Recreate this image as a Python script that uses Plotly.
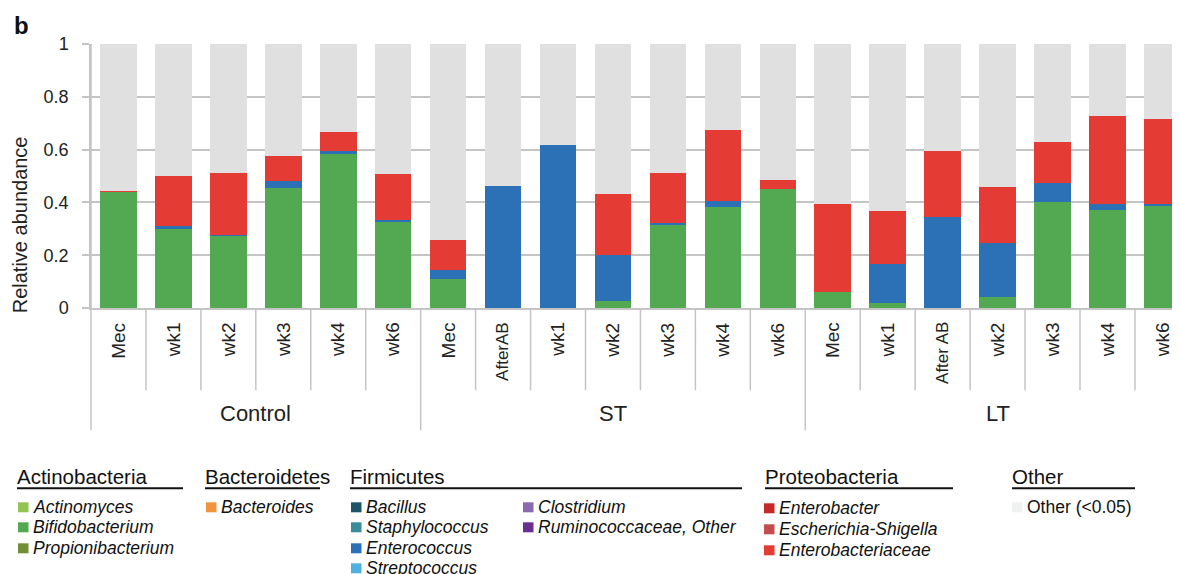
import plotly.graph_objects as go

OFF = 8  # page body margin in the browser
W, H = 1180 - OFF, 574 - OFF
ML, MT = 91 - OFF, 43.7 - OFF
MR = 0
PH = 264
MB = H - MT - PH
PW = W - ML - MR

labels = ["Mec", "wk1", "wk2", "wk3", "wk4", "wk6",
          "Mec", "AfterAB", "wk1", "wk2", "wk3", "wk4", "wk6",
          "Mec", "wk1", "After AB", "wk2", "wk3", "wk4", "wk6"]
groups = ["Control", "ST", "LT"]
group_sizes = [6, 7, 7]

bifido = [0.44, 0.298, 0.273, 0.456, 0.585, 0.329,
          0.111, 0.0, 0.0, 0.026, 0.313, 0.382, 0.45,
          0.059, 0.019, 0.0, 0.042, 0.401, 0.373, 0.388]
entero = [0.0, 0.014, 0.005, 0.026, 0.010, 0.005,
          0.034, 0.463, 0.619, 0.176, 0.009, 0.025, 0.0,
          0.0, 0.146, 0.346, 0.206, 0.071, 0.020, 0.007]
enterob = [0.005, 0.187, 0.232, 0.095, 0.071, 0.172,
           0.111, 0.0, 0.0, 0.228, 0.19, 0.268, 0.034,
           0.336, 0.202, 0.249, 0.21, 0.157, 0.335, 0.321]
other = [0.555, 0.501, 0.49, 0.423, 0.334, 0.494,
         0.744, 0.537, 0.381, 0.57, 0.488, 0.325, 0.516,
         0.605, 0.633, 0.405, 0.542, 0.371, 0.272, 0.284]

C_GREEN = "#53a951"
C_BLUE = "#2c70b6"
C_RED = "#e53b35"
C_GREY = "#e0e0e0"
GRID = "#c4c4c4"
FONT = "Liberation Sans, Arial, sans-serif"

xs = list(range(len(labels)))

fig = go.Figure()
for name, vals, col in [("Bifidobacterium", bifido, C_GREEN),
                        ("Enterococcus", entero, C_BLUE),
                        ("Enterobacteriaceae", enterob, C_RED),
                        ("Other (<0.05)", other, C_GREY)]:
    fig.add_trace(go.Bar(x=xs, y=vals, name=name, marker=dict(color=col, line=dict(width=0)),
                         width=0.665, showlegend=False))


def px(x):
    # x in reference-window pixels -> paper coords
    return (x - OFF - ML) / PW


def py(y):
    return (H - MB - (y - OFF)) / PH


shapes = []
annotations = []

bounds = []
acc = 0
for s in group_sizes:
    acc += s
    bounds.append(acc - 0.5)
for k in range(len(labels) - 1):
    b = k + 0.5
    y1 = py(430) if b in bounds else py(390)
    shapes.append(dict(type="line", xref="x", yref="paper", x0=b, x1=b, y0=0, y1=y1,
                       line=dict(color=GRID, width=1.5)))
shapes.append(dict(type="line", xref="paper", yref="paper", x0=0, x1=0, y0=1, y1=py(430),
                   line=dict(color=GRID, width=1.5)))

for i, lab in enumerate(labels):
    small = "After" in lab
    annotations.append(dict(x=i, y=py(320), xref="x", yref="paper", text=lab, textangle=-90,
                            showarrow=False, xanchor="center", yanchor="top",
                            font=dict(family=FONT, size=17 if small else 19, color="#222")))

start = -0.5
for g, s in zip(groups, group_sizes):
    annotations.append(dict(x=start + s / 2, y=py(413), xref="x", yref="paper", text=g,
                            showarrow=False, xanchor="center", yanchor="middle",
                            font=dict(family=FONT, size=22, color="#222")))
    start += s

annotations.append(dict(x=px(12), y=py(25), xref="paper", yref="paper", text="<b>b</b>",
                        showarrow=False, xanchor="left", yanchor="middle",
                        font=dict(family=FONT, size=24, color="#111")))
annotations.append(dict(x=px(20), y=py(225), xref="paper", yref="paper", text="Relative abundance",
                        textangle=-90, showarrow=False, xanchor="center", yanchor="middle",
                        font=dict(family=FONT, size=20, color="#222")))

legend_groups = [
    ("Actinobacteria", 17, 183, [
        (18, 507, "#93c453", "Actinomyces"),
        (18, 527, "#52a94f", "Bifidobacterium"),
        (18, 548, "#728f38", "Propionibacterium")]),
    ("Bacteroidetes", 205, 320, [
        (206, 507, "#f0953f", "Bacteroides")]),
    ("Firmicutes", 350, 742, [
        (351, 507, "#1d5568", "Bacillus"),
        (351, 527, "#3a8b9c", "Staphylococcus"),
        (351, 548, "#2c70b6", "Enterococcus"),
        (351, 568, "#4fb0e2", "Streptococcus"),
        (523, 507, "#8a68b0", "Clostridium"),
        (523, 527, "#6a2e91", "Ruminococcaceae, Other")]),
    ("Proteobacteria", 765, 953, [
        (764, 508, "#c62a28", "Enterobacter"),
        (764, 529, "#c44d4f", "Escherichia-Shigella"),
        (764, 550, "#e53b35", "Enterobacteriaceae")]),
    ("Other", 1012, 1135, [
        (1012, 507, "#f0f1f1", "Other (<0.05)")]),
]
for head, x0, x1, items in legend_groups:
    annotations.append(dict(x=px(x0 - 2), y=py(476), xref="paper", yref="paper", text=head,
                            showarrow=False, xanchor="left", yanchor="middle",
                            font=dict(family=FONT, size=20.5, color="#111")))
    shapes.append(dict(type="line", xref="paper", yref="paper", x0=px(x0), x1=px(x1),
                       y0=py(488), y1=py(488), line=dict(color="#111", width=2)))
    for sx, sy, col, txt in items:
        shapes.append(dict(type="rect", xref="paper", yref="paper", x0=px(sx), x1=px(sx + 10.5),
                           y0=py(sy - 5), y1=py(sy + 5), fillcolor=col, line=dict(width=0)))
        t = txt if head == "Other" else "<i>" + txt + "</i>"
        annotations.append(dict(x=px(sx + 13), y=py(sy), xref="paper", yref="paper", text=t,
                                showarrow=False, xanchor="left", yanchor="middle",
                                font=dict(family=FONT, size=17.5, color="#111")))

fig.update_layout(
    width=W, height=H, barmode="stack", bargap=0.335,
    margin=dict(l=ML, r=MR, t=MT, b=MB),
    plot_bgcolor="white", paper_bgcolor="white",
    font=dict(family=FONT, color="#222"),
    shapes=shapes, annotations=annotations,
    xaxis=dict(range=[-0.5, 19.32], showticklabels=False, showgrid=False, zeroline=False,
               showline=True, linecolor=GRID, linewidth=1.5, ticks=""),
    yaxis=dict(range=[0, 1], tickvals=[0, 0.2, 0.4, 0.6, 0.8, 1],
               ticktext=["0", "0.2", "0.4", "0.6", "0.8", "1"],
               showgrid=True, gridcolor=GRID, gridwidth=1.5, zeroline=False,
               showline=True, linecolor=GRID, linewidth=1.5,
               ticks="outside", ticklen=7, tickcolor=GRID, tickwidth=1.5,
               ticklabelstandoff=10,
               tickfont=dict(family=FONT, size=18, color="#222")),
)

fig.write_html("out.html")
